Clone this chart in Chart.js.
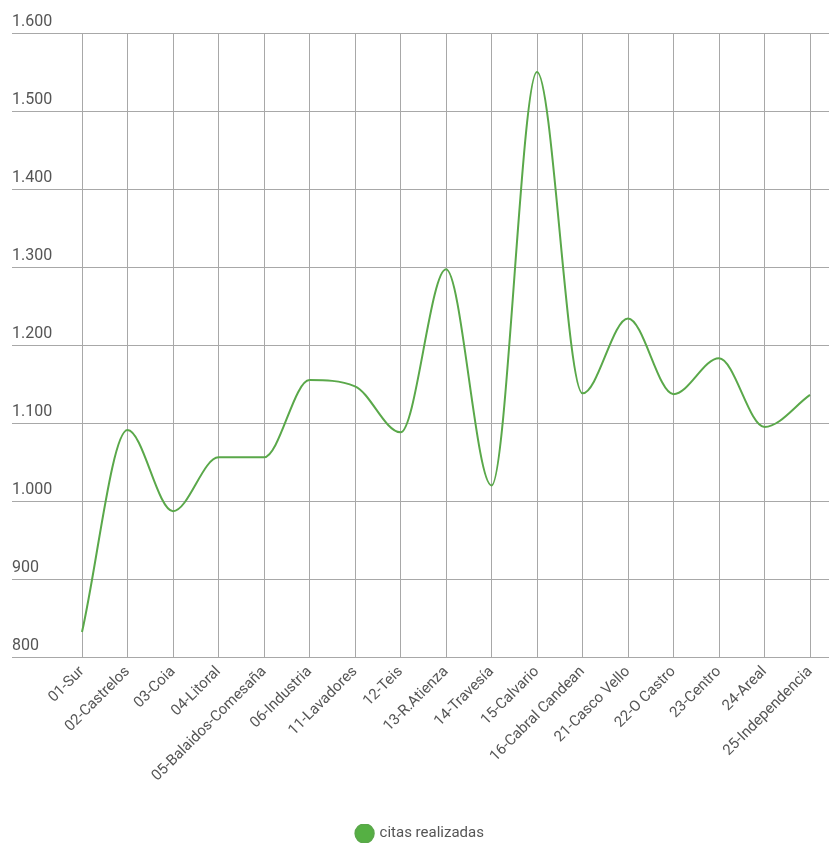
<!DOCTYPE html>
<html>
<head>
<meta charset="utf-8">
<script src="https://cdn.jsdelivr.net/npm/chart.js@4/dist/chart.umd.min.js"></script>
<style>
  html, body { margin: 0; padding: 0; background: #fff; }
  #wrap { width: 829px; height: 843px; }
</style>
</head>
<body>
<div id="wrap"><canvas id="citasChart"></canvas></div>
<script>
// categories and values
const barrios = [
    '01-Sur', '02-Castrelos', '03-Coia', '04-Litoral', '05-Balaidos-Comesaña',
    '06-Industria', '11-Lavadores', '12-Teis', '13-R.Atienza', '14-Travesía',
    '15-Calvario', '16-Cabral Candean', '21-Casco Vello', '22-O Castro',
    '23-Centro', '24-Areal', '25-Independencia'
];
const citas = [832, 1091, 987, 1056, 1056, 1155, 1147, 1088, 1297, 1020,
    1550, 1138, 1234, 1137, 1183, 1095, 1136];
const yMin = 800;
const yMax = 1600;
const yStep = 100;

const green = '#5aa84a';
const gridColor = '#a8a8a8';
const textColor = '#555';

Chart.defaults.font.family = 'Roboto';
Chart.defaults.font.size = 15;
Chart.defaults.color = textColor;

// 1600 -> "1.600"
const miles = v => String(v).replace(/(\d)(?=(\d{3})$)/, '$1.');

new Chart(document.getElementById('citasChart').getContext('2d'), {
    type: 'line',
    data: {
        labels: barrios,
        datasets: [{
            label: 'citas realizadas',
            data: citas,
            borderColor: green,
            backgroundColor: '#55b043',
            borderWidth: 2,
            cubicInterpolationMode: 'monotone',
            pointRadius: 0,
            fill: false
        }]
    },
    options: {
        responsive: true,
        maintainAspectRatio: false,
        animation: false,
        layout: { padding: { left: 12, top: 33, right: 0, bottom: -8 } },
        plugins: {
            legend: {
                position: 'bottom',
                labels: {
                    usePointStyle: true,
                    pointStyle: 'circle',
                    boxWidth: 15,
                    boxHeight: 13,
                    padding: 2,
                    color: textColor
                }
            },
            tooltip: { enabled: false }
        },
        scales: {
            x: {
                grid: { color: gridColor, drawTicks: false },
                border: { color: gridColor },
                ticks: { minRotation: 45, maxRotation: 45, padding: 6, color: textColor },
                afterFit: s => { s.height = 167; }
            },
            y: {
                min: yMin,
                max: yMax,
                grid: { color: gridColor, tickLength: 70, tickColor: gridColor },
                border: { display: false },
                ticks: {
                    stepSize: yStep,
                    crossAlign: 'far',
                    labelOffset: -11,
                    color: textColor,
                    font: { size: 16 },
                    callback: v => miles(v)
                },
                afterFit: s => { s.width = 70; }
            },
            yRight: {
                position: 'right',
                min: yMin,
                max: yMax,
                grid: { color: gridColor, drawOnChartArea: false, tickLength: 19, tickColor: gridColor },
                border: { display: false },
                ticks: { stepSize: yStep, display: false },
                afterFit: s => { s.width = 19; }
            }
        }
    }
});
</script>
</body>
</html>
